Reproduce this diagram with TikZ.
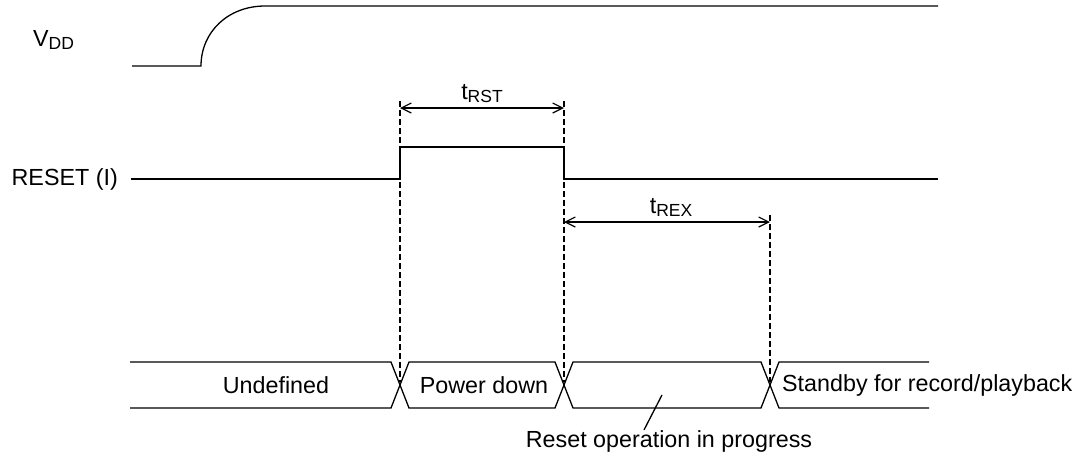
\documentclass[tikz,border=0pt]{standalone}
\usepackage{fontspec}
\setmainfont{Liberation Sans}
\usetikzlibrary{arrows.meta, positioning}
\newcommand{\lowsub}[1]{\raisebox{-3pt}{\fontsize{17.5}{18}\selectfont #1}}

\begin{document}
\begin{tikzpicture}[x=1pt, y=-1pt,
        wave/.style={line width=1.3pt},
        guide/.style={line width=1.9pt, dash pattern=on 5.5pt off 3.5pt},
        dim/.style={line width=1.2pt, {Straight Barb[length=10pt,width=10pt]}-{Straight Barb[length=10pt,width=10pt]}},
        lbl/.style={font=\fontsize{23.3}{28}\selectfont, inner sep=0pt}
    ]
        \useasboundingbox (0,0) rectangle (1085,456);
        % VDD
        \coordinate (vddA) at (132,66);
        \coordinate (vddB) at (201,66);
        \coordinate (vddC) at (265,6);
        \coordinate (vddD) at (938,6);
        \draw[wave] (vddA) -- (vddB) .. controls (201,32) and (228,6) .. (vddC) -- (vddD);
        \node[lbl, anchor=base west] (vdd) at (33,46) {V\lowsub{DD}};
        % RESET pulse
        \coordinate (rstA) at (131,179);
        \coordinate (rstB) at (400,179);
        \coordinate (rstC) at (400,147);
        \coordinate (rstD) at (564,147);
        \coordinate (rstE) at (564,179);
        \coordinate (rstF) at (938,179);
        \draw[wave] (rstA) -- (rstB) -- (rstC) -- (rstD) -- (rstE) -- (rstF);
        \node[lbl, left=13pt of rstA] (reset) {RESET (I)};
        % guides
        \coordinate (g1top) at (400,101);
        \coordinate (g2top) at (564,101);
        \coordinate (g3top) at (770,215);
        \coordinate (g1bot) at (400,382);
        \coordinate (g2bot) at (564,382);
        \coordinate (g3bot) at (770,382);
        \draw[guide] (g1top) -- (g1bot);
        \draw[guide] (g2top) -- (g2bot);
        \draw[guide] (g3top) -- (g3bot);
        \coordinate (trstL) at (400,108);
        \coordinate (trstR) at (564,108);
        \coordinate (trexL) at (564,222);
        \coordinate (trexR) at (770,222);
        \draw[dim] (trstL) -- node[lbl, above=5pt] (trst) {t\lowsub{RST}} (trstR);
        \draw[dim] (trexL) -- node[lbl, above=5pt, xshift=4pt] (trex) {t\lowsub{REX}} (trexR);
        % bus states
        \draw[wave] (130,362) -- (391,362) -- (409,408) -- (555,408) -- (573,362) -- (761,362) -- (779,408) -- (929,408);
        \draw[wave] (130,408) -- (391,408) -- (409,362) -- (555,362) -- (573,408) -- (761,408) -- (779,362) -- (929,362);
        \node[lbl] (undef) at (276,385) {Undefined};
        \node[lbl] (pdown) at (484,385) {Power down};
        \node[lbl, anchor=west] (stby) at (782,385) {Standby for record/playback};
        \coordinate (busmid) at (662,395);
        \node[lbl] (resop) at (669,441) {Reset operation in progress};
        \draw[wave] (busmid) -- (resop.north -| 644,0);
    \end{tikzpicture}
\end{document}
